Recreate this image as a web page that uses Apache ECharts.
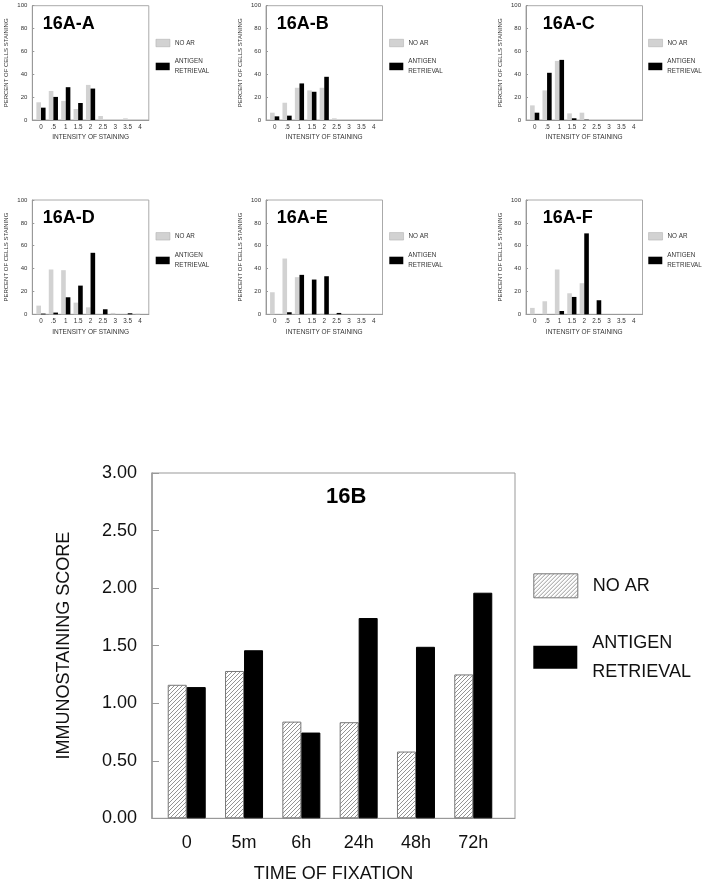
<!DOCTYPE html>
<html><head><meta charset="utf-8">
<script src="https://cdn.jsdelivr.net/npm/echarts@6/dist/echarts.min.js"></script>
<style>html,body{margin:0;padding:0;background:#fff}#c{width:704px;height:887px}</style>
</head><body><div id="c"></div>
<script>
// ---------- DATA ----------
const intensityLabels = ['0', '.5', '1', '1.5', '2', '2.5', '3', '3.5', '4'];
const panelTitles = ['16A-A', '16A-B', '16A-C', '16A-D', '16A-E', '16A-F'];
const noAR_A = [15.5, 25.4, 16.7, 9.6, 30.7, 3.5, 0, 1.5, 0];
const ar_A   = [10.8, 20.2, 28.7, 14.9, 27.5, 0, 0, 0, 0];
const noAR_B = [6.4, 15.1, 28.2, 25.9, 28.2, 1.5, 0, 0, 0];
const ar_B   = [3.2, 3.8, 32.0, 24.7, 37.8, 0, 0, 0, 0];
const noAR_C = [12.8, 25.9, 51.7, 5.8, 6.4, 0, 0, 0, 0];
const ar_C   = [6.4, 41.3, 52.6, 1.5, 0.3, 0, 0, 0, 0];
const noAR_D = [7.6, 39.2, 38.6, 10.2, 6.1, 0, 1.2, 0, 0.6];
const ar_D   = [0.6, 1.5, 14.9, 25.1, 53.8, 4.4, 0, 0.9, 0];
const noAR_E = [19.3, 48.8, 32.5, 0.6, 0.6, 0, 0, 0, 0];
const ar_E   = [0, 1.8, 34.5, 30.4, 33.3, 1.2, 0, 0, 0];
const noAR_F = [5.6, 11.4, 39.2, 18.4, 27.2, 0, 0, 0, 0];
const ar_F   = [0, 0, 2.9, 15.2, 70.8, 12.3, 0, 0, 0];

const fixationTimes = ['0', '5m', '6h', '24h', '48h', '72h'];
const noAR_16B = [1.16, 1.28, 0.84, 0.835, 0.58, 1.25];
const ar_16B   = [1.14, 1.46, 0.745, 1.74, 1.49, 1.96];

// ---------- BUILD ----------
const FONT = '"Liberation Sans", Arial, Helvetica, sans-serif';
const panelNoAR = [noAR_A, noAR_B, noAR_C, noAR_D, noAR_E, noAR_F];
const panelAR = [ar_A, ar_B, ar_C, ar_D, ar_E, ar_F];

function hatchCanvas() {
  const c = document.createElement('canvas');
  c.width = 4; c.height = 4;
  const g = c.getContext('2d');
  g.fillStyle = '#fff'; g.fillRect(0, 0, 4, 4);
  g.strokeStyle = '#666'; g.lineWidth = 0.7;
  g.beginPath();
  g.moveTo(0, 4); g.lineTo(4, 0);
  g.moveTo(-1, 1); g.lineTo(1, -1);
  g.moveTo(3, 5); g.lineTo(5, 3);
  g.stroke();
  return c;
}
const hatch = { image: hatchCanvas(), repeat: 'repeat' };

const panelLeft = [32.3, 266, 526];
const panelTop = [5.7, 200];
const panelW = 116.5, panelH = 114.3;
const titleLeft = [42.7, 276.7, 542.7];
const legLeft = [155.7, 389.3, 648.3];
const legIconTop = [[39, 62.7], [232.3, 256.7]];

const grids = [], xAxes = [], yAxes = [], series = [], titles = [], legends = [];

panelTitles.forEach((t, i) => {
  const col = i % 3, row = Math.floor(i / 3);
  const L = panelLeft[col], T = panelTop[row];
  grids.push({ left: L, top: T, width: panelW, height: panelH, show: true, borderColor: '#aaa', borderWidth: 1 });
  xAxes.push({
    gridIndex: i, type: 'value', min: -0.7, max: 8.7,
    axisLine: { onZero: false, lineStyle: { color: '#999' } }, axisTick: { show: false }, splitLine: { show: false },
    axisLabel: { customValues: intensityLabels.map((_, k) => k), formatter: v => intensityLabels[Math.round(v)],
      fontSize: 6.3, color: '#333', margin: 4, fontFamily: FONT },
    name: 'INTENSITY OF STAINING', nameLocation: 'middle', nameGap: 14,
    nameTextStyle: { fontSize: 6.5, color: '#333', fontFamily: FONT }
  });
  yAxes.push({
    gridIndex: i, type: 'value', min: 0, max: 100, interval: 20,
    axisLine: { show: true, onZero: false, lineStyle: { color: '#999' } },
    axisTick: { show: true, inside: true, length: 2, lineStyle: { color: '#999' } },
    splitLine: { show: false },
    axisLabel: { fontSize: 6, color: '#333', margin: 5, fontFamily: FONT },
    name: 'PERCENT OF CELLS STAINING', nameLocation: 'middle', nameGap: 23,
    nameTextStyle: { fontSize: 6, color: '#333', fontFamily: FONT }
  });
  series.push({ type: 'bar', name: 'NO AR', xAxisIndex: i, yAxisIndex: i, barWidth: 4.6, barGap: '0%',
    data: panelNoAR[i].map((v, k) => [k, v]), itemStyle: { color: '#d2d2d2' }, silent: true });
  series.push({ type: 'bar', name: 'ANTIGEN RETRIEVAL', xAxisIndex: i, yAxisIndex: i, barWidth: 4.6, barGap: '0%',
    data: panelAR[i].map((v, k) => [k, v]), itemStyle: { color: '#000' }, silent: true });
  titles.push({ text: t, left: titleLeft[col], top: T + 9.5, padding: 0,
    textStyle: { fontSize: 18, fontWeight: 'bold', color: '#000', fontFamily: FONT } });
  legends.push({ left: legLeft[col], top: legIconTop[row][0], padding: 0, itemWidth: 14, itemHeight: 7.5,
    icon: 'rect', selectedMode: false, data: [{ name: 'NO AR', itemStyle: { color: '#d2d2d2', borderColor: '#aaa', borderWidth: 0.5 } }],
    textStyle: { fontSize: 6.3, lineHeight: 8, color: '#333', fontFamily: FONT } });
  legends.push({ left: legLeft[col], top: legIconTop[row][1] - 12.75, padding: 0, itemWidth: 14, itemHeight: 7.5,
    icon: 'rect', selectedMode: false, data: [{ name: 'ANTIGEN RETRIEVAL', itemStyle: { color: '#000' } }],
    formatter: n => n.replace(' ', '\n'),
    textStyle: { fontSize: 6.3, lineHeight: 10, color: '#333', fontFamily: FONT, padding: [13, 0, 0, 0] } });
});

// Big chart 16B
const bi = 6;
grids.push({ left: 152, top: 473, width: 363, height: 345.3, show: true, borderColor: '#999', borderWidth: 1 });
xAxes.push({
  gridIndex: bi, type: 'value', min: -0.606, max: 5.728,
  axisLine: { onZero: false, lineStyle: { color: '#999', width: 1 } }, axisTick: { show: false }, splitLine: { show: false },
  axisLabel: { customValues: fixationTimes.map((_, k) => k), formatter: v => fixationTimes[Math.round(v)],
    fontSize: 18, color: '#111', margin: 16, fontFamily: FONT },
  name: 'TIME OF FIXATION', nameLocation: 'middle', nameGap: 47,
  nameTextStyle: { fontSize: 18, color: '#111', fontFamily: FONT }
});
yAxes.push({
  gridIndex: bi, type: 'value', min: 0, max: 3, interval: 0.5,
  axisLine: { show: true, onZero: false, lineStyle: { color: '#999', width: 1.5 } },
  axisTick: { show: true, inside: true, length: 7, lineStyle: { color: '#999' } },
  splitLine: { show: false },
  axisLabel: { formatter: v => v.toFixed(2), fontSize: 18, color: '#111', margin: 15, fontFamily: FONT },
  name: 'IMMUNOSTAINING SCORE', nameLocation: 'middle', nameGap: 79,
  nameTextStyle: { fontSize: 18, color: '#111', fontFamily: FONT }
});
series.push({ type: 'bar', name: 'NO AR', xAxisIndex: bi, yAxisIndex: bi, barWidth: 19, barGap: '0%',
  data: noAR_16B.map((v, k) => [k, v]), itemStyle: { color: hatch, borderColor: '#777', borderWidth: 1 }, silent: true });
series.push({ type: 'bar', name: 'ANTIGEN RETRIEVAL', xAxisIndex: bi, yAxisIndex: bi, barWidth: 19, barGap: '0%',
  data: ar_16B.map((v, k) => [k, v]), itemStyle: { color: '#000', borderColor: '#000', borderWidth: 1 }, silent: true });
titles.push({ text: '16B', left: 326, top: 486, padding: 0,
  textStyle: { fontSize: 22, fontWeight: 'bold', color: '#000', fontFamily: FONT } });
legends.push({ left: 533.3, top: 573.3, padding: 0, itemWidth: 44, itemHeight: 24, icon: 'rect', selectedMode: false,
  data: [{ name: 'NO AR', itemStyle: { color: hatch, borderColor: '#777', borderWidth: 1 } }],
  textStyle: { fontSize: 18, lineHeight: 20, color: '#111', fontFamily: FONT, padding: [0, 0, 0, 10] } });
legends.push({ left: 533.3, top: 645.7 - 37.5, padding: 0, itemWidth: 44, itemHeight: 23, icon: 'rect', selectedMode: false,
  data: [{ name: 'ANTIGEN RETRIEVAL', itemStyle: { color: '#000' } }],
  formatter: n => n.replace(' ', '\n'),
  textStyle: { fontSize: 18, lineHeight: 29, color: '#111', fontFamily: FONT, padding: [40, 0, 0, 10] } });

const chart = echarts.init(document.getElementById('c'), null, { renderer: 'canvas' });
chart.setOption({
  animation: false,
  backgroundColor: '#fff',
  textStyle: { fontFamily: FONT },
  title: titles, legend: legends, grid: grids, xAxis: xAxes, yAxis: yAxes, series: series
});
</script>
</body></html>
